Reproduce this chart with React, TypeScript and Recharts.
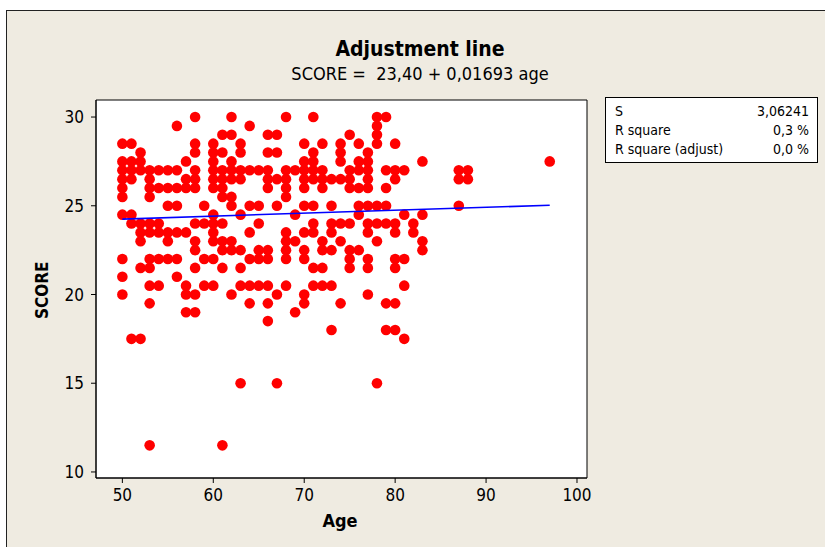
import React from "react";
import {
  ScatterChart,
  Scatter,
  XAxis,
  YAxis,
  ReferenceArea,
} from "recharts";

// score levels and the ages plotted at each level
const scoreLevels = [
  30, 29.5, 29, 28.5, 28, 27.5, 27, 26.5, 26, 25.5, 25, 24.5, 24, 23.5, 23, 22.5,
  22, 21.5, 21, 20.5, 20, 19.5, 19, 18.5, 18, 17.5, 15, 11.5,
];
const agesAtLevel = [
  [58, 62, 68, 71, 78, 79],
  [56, 64, 78],
  [61, 62, 66, 67, 75, 78],
  [50, 51, 58, 60, 63, 70, 72, 74, 76, 78, 80],
  [52, 58, 60, 61, 63, 66, 67, 71, 74, 77],
  [50, 51, 52, 57, 60, 62, 70, 71, 74, 76, 77, 83, 97],
  [50, 51, 52, 53, 54, 55, 56, 58, 60, 61, 62, 63, 64, 65, 66, 68, 69, 70, 71, 72, 75, 76, 77, 79, 80, 81, 87, 88],
  [50, 51, 53, 57, 58, 60, 61, 62, 63, 66, 67, 68, 70, 71, 72, 73, 74, 75, 77, 80, 87, 88],
  [50, 53, 54, 55, 56, 57, 58, 60, 61, 66, 68, 70, 72, 75, 76, 77, 79],
  [50, 53, 61, 62, 68],
  [55, 56, 59, 62, 64, 65, 67, 70, 71, 73, 76, 77, 78, 79, 87],
  [50, 51, 60, 63, 69, 76, 81, 83],
  [51, 52, 53, 54, 58, 59, 60, 61, 65, 71, 73, 74, 75, 77, 78, 79, 80, 82],
  [52, 53, 54, 55, 56, 57, 60, 64, 68, 70, 71, 73, 77, 80, 82],
  [52, 55, 58, 60, 61, 62, 68, 69, 72, 74, 78, 83],
  [58, 61, 62, 63, 65, 66, 68, 70, 72, 73, 75, 76, 83],
  [50, 53, 54, 55, 56, 59, 60, 64, 65, 66, 68, 70, 75, 77, 80, 81],
  [52, 53, 58, 61, 63, 71, 72, 75, 77, 80],
  [50, 56],
  [53, 54, 57, 59, 60, 63, 64, 65, 66, 68, 71, 72, 73, 81],
  [50, 57, 58, 62, 67, 70, 77],
  [53, 64, 66, 70, 74, 79, 80],
  [57, 58, 69],
  [66],
  [73, 79, 80],
  [51, 52, 81],
  [63, 67, 78],
  [53, 61],
];

// fitted line end points
const fitAges = [50, 97];
const fitScores = [24.25, 25.03];

const xTicks = [50, 60, 70, 80, 90, 100];
const yTicks = [10, 15, 20, 25, 30];
const xDomain = [47.1, 101.1];
const yDomain = [9.66, 30.96];

const statNames = ["S", "R square", "R square (adjust)"];
const statValues = ["3,06241", "0,3 %", "0,0 %"];

const points = scoreLevels.flatMap((s, i) =>
  agesAtLevel[i].map((a) => ({ x: a, y: s }))
);
const fit = fitAges.map((a, i) => ({ x: a, y: fitScores[i] }));

const FONT = '"DejaVu Sans Condensed", sans-serif';

const Dot = (p: any) => <circle cx={p.cx} cy={p.cy} r={5.3} fill="#ff0000" />;

export default function App() {
  return (
    <div
      style={{
        position: "absolute",
        left: 0,
        top: 0,
        width: 825,
        height: 547,
        background: "#fff",
        overflow: "hidden",
        fontFamily: FONT,
        color: "#000",
      }}
    >
      <div
        style={{
          position: "absolute",
          left: 6,
          top: 10,
          width: 830,
          height: 550,
          background: "#efebe1",
          borderLeft: "1px solid #222",
          borderTop: "1px solid #222",
        }}
      />
      <div
        style={{
          position: "absolute",
          left: 220,
          width: 400,
          top: 37,
          textAlign: "center",
          fontWeight: "bold",
          fontSize: 21,
          lineHeight: "25px",
        }}
      >
        Adjustment line
      </div>
      <div
        style={{
          position: "absolute",
          left: 220,
          width: 400,
          top: 62,
          textAlign: "center",
          fontSize: 18,
          lineHeight: "23px",
          whiteSpace: "pre",
        }}
      >
        {"SCORE =  23,40 + 0,01693 age"}
      </div>

      <ScatterChart
        width={825}
        height={547}
        margin={{ top: 100, right: 238, bottom: 39, left: 56 }}
        style={{ position: "absolute", left: 0, top: 0 }}
      >
        <XAxis
          type="number"
          dataKey="x"
          domain={xDomain}
          ticks={xTicks}
          allowDataOverflow
          height={30}
          tickSize={5}
          tickMargin={6}
          axisLine={{ stroke: "#000" }}
          tickLine={{ stroke: "#000" }}
          tick={{ fill: "#000", fontSize: 17, fontFamily: FONT }}
        />
        <YAxis
          type="number"
          dataKey="y"
          domain={yDomain}
          ticks={yTicks}
          allowDataOverflow
          width={40}
          tickSize={5}
          tickMargin={7}
          axisLine={{ stroke: "#000" }}
          tickLine={{ stroke: "#000" }}
          tick={{ fill: "#000", fontSize: 17, fontFamily: FONT }}
        />
        <ReferenceArea
          x1={xDomain[0]}
          x2={xDomain[1]}
          y1={yDomain[0]}
          y2={yDomain[1]}
          fill="#fff"
          fillOpacity={1}
          stroke="#000"
          strokeWidth={1}
        />
        <Scatter data={points} shape={Dot} isAnimationActive={false} />
        <Scatter
          data={fit}
          line={{ stroke: "#0000ff", strokeWidth: 1.6 }}
          shape={() => <g />}
          isAnimationActive={false}
        />
      </ScatterChart>

      <div
        style={{
          position: "absolute",
          left: 20,
          top: 287,
          width: 44,
          textAlign: "center",
          transform: "rotate(-90deg)",
          fontWeight: "bold",
          fontSize: 17,
          lineHeight: "20px",
        }}
      >
        SCORE
      </div>
      <div
        style={{
          position: "absolute",
          left: 300,
          width: 80,
          top: 510,
          textAlign: "center",
          fontWeight: "bold",
          fontSize: 18,
          lineHeight: "22px",
        }}
      >
        Age
      </div>

      <div
        style={{
          position: "absolute",
          left: 605,
          top: 97,
          width: 211,
          height: 64,
          background: "#fff",
          border: "1px solid #000",
          fontSize: 14,
        }}
      >
        {statNames.map((n, i) => (
          <div
            key={n}
            style={{
              position: "absolute",
              left: 9,
              right: 8,
              top: 4 + i * 19,
              display: "flex",
              justifyContent: "space-between",
              lineHeight: "18px",
            }}
          >
            <span>{n}</span>
            <span>{statValues[i]}</span>
          </div>
        ))}
      </div>
    </div>
  );
}
